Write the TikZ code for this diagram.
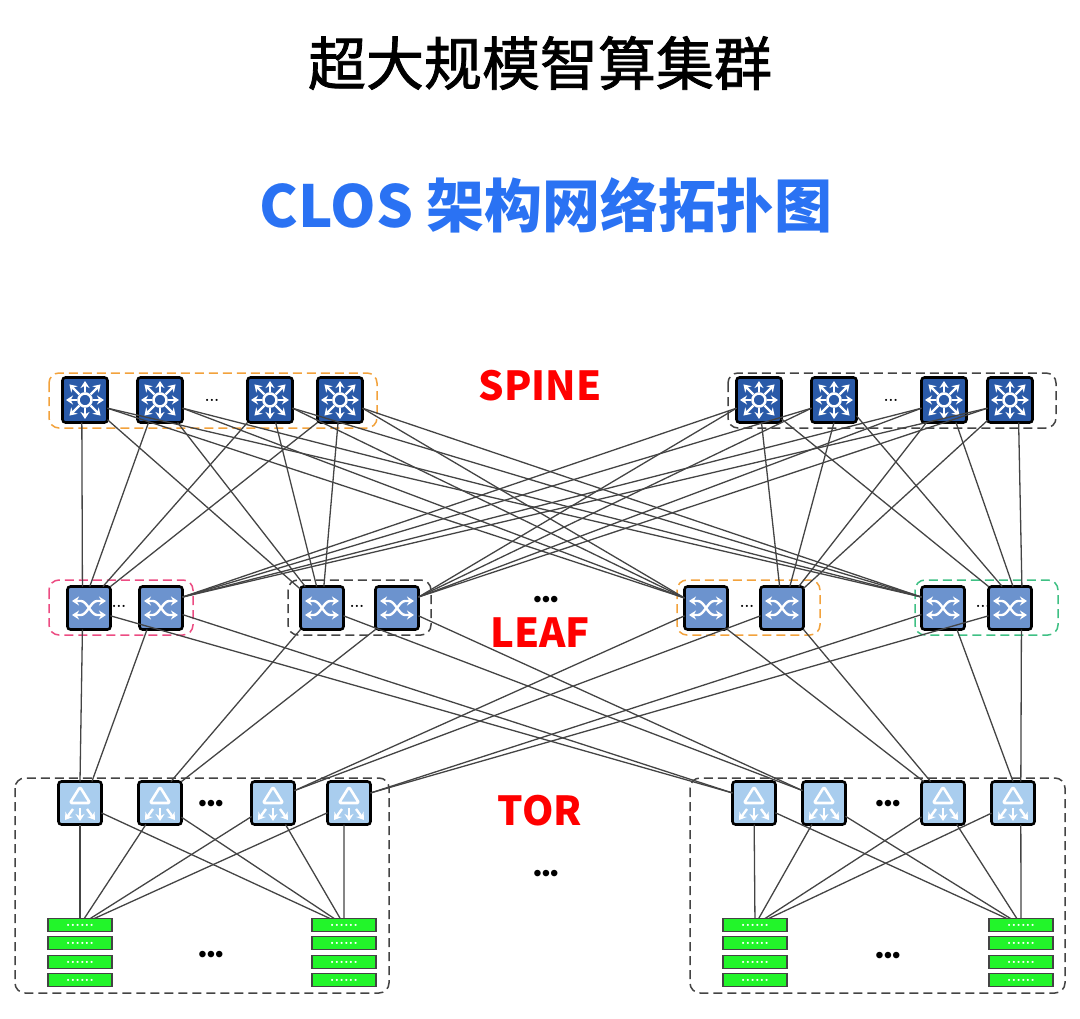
\documentclass[tikz,border=0pt]{standalone}
\usepackage{fontspec}
\usepackage{xcolor}
\usetikzlibrary{arrows.meta}
\usetikzlibrary{calc}
\newfontfamily\cjk{Noto Sans CJK SC}
\newfontfamily\cjkheavy[FakeBold=1.4]{Noto Sans CJK SC}
\newfontfamily\dotfont{Liberation Sans}
\definecolor{spineblue}{HTML}{2A5AA8}
\definecolor{leafblue}{HTML}{6C93CE}
\definecolor{torblue}{HTML}{A9CDEE}
\definecolor{servergreen}{HTML}{22F52A}
\definecolor{titleblue}{HTML}{2A72F3}
\definecolor{groupgray}{HTML}{444444}
\definecolor{grouporange}{HTML}{F2A23C}
\definecolor{grouppink}{HTML}{EC4C82}
\definecolor{groupgreen}{HTML}{3FC084}
\tikzset{
    switchbox/.style={draw=black, line width=2.6pt, rounded corners=3pt, inner sep=0pt, outer sep=0pt, minimum size=#1},
    spinebox/.style={switchbox=45pt, fill=spineblue},
    leafbox/.style={switchbox=43pt, fill=leafblue},
    torbox/.style={switchbox=43pt, fill=torblue},
    serverbox/.style={draw=groupgray, line width=1.3pt, fill=servergreen, minimum width=64pt, minimum height=13pt, inner sep=0pt, outer sep=0pt, text=white, font=\bfseries\fontsize{15}{15}\selectfont},
    groupbox/.style={draw=#1, line width=1.5pt, dash pattern=on 9pt off 5pt, rounded corners=10pt},
    link/.style={draw=groupgray, line width=1.3pt},
    iconline/.style={draw=white, line width=2.4pt, -{Stealth[length=7pt,width=9pt]}},
    bigdots/.style={font=\dotfont\fontsize{24}{24}\selectfont, inner sep=0pt},
    smalldots/.style={font=\bfseries\fontsize{15}{15}\selectfont, inner sep=0pt},
    layername/.style={font=\cjk\bfseries\fontsize{40}{40}\selectfont, text=red, inner sep=0pt},
    spineicon/.pic={
        \draw[white, line width=2.6pt] (0,0) circle (6.5);
        \foreach \ang in {0,90,180,270} \draw[iconline] (\ang:8) -- (\ang:19);
        \foreach \ang in {45,135,225,315} \draw[iconline] (\ang:8) -- (\ang:22);
    },
    leaficon/.pic={
        \draw[iconline, {Stealth[length=7pt,width=9pt]}-{Stealth[length=7pt,width=9pt]}] (-17,-7) -- (-8,-7) .. controls (-2,-7) and (2,7) .. (8,7) -- (17,7);
        \draw[iconline, {Stealth[length=7pt,width=9pt]}-{Stealth[length=7pt,width=9pt]}] (-17,7) -- (-8,7) .. controls (-2,7) and (2,-7) .. (8,-7) -- (17,-7);
    },
    toricon/.pic={
        \draw[white, line width=2.6pt, line join=round, rounded corners=1.5pt] (0,-16) -- (10,0) -- (-10,0) -- cycle;
        \draw[iconline] (0,5) -- (0,18);
        \draw[iconline] (-7,6) -- (-15,17);
        \draw[iconline] (7,6) -- (15,17);
    },
}
\begin{document}
\begin{tikzpicture}[>=Stealth, x=1pt, y=-1pt]

    \useasboundingbox (0,0) rectangle (1080,1019);

    \node[font=\cjkheavy\fontsize{58}{58}\selectfont, text=black, inner sep=0pt] (title) at (540,63) {超大规模智算集群};
    \node[font=\cjk\bfseries\fontsize{58}{58}\selectfont, text=titleblue, inner sep=0pt] (subtitle) at (546,205) {CLOS 架构网络拓扑图};

    \node[layername] (spinename) at (540,386) {SPINE};
    \node[layername] (leafname) at (540,633) {LEAF};
    \node[layername] (torname) at (540,811) {TOR};

    % dashed groups
    \draw[groupbox=grouporange] (49,373) rectangle (377,428);
    \draw[groupbox=groupgray] (728,373) rectangle (1056,428);
    \draw[groupbox=grouppink] (49,580) rectangle (193,635);
    \draw[groupbox=groupgray] (288,580) rectangle (431,635);
    \draw[groupbox=grouporange] (677,580) rectangle (820,635);
    \draw[groupbox=groupgreen] (915,580) rectangle (1058,635);
    \draw[groupbox=groupgray] (15,778) rectangle (389,993);
    \draw[groupbox=groupgray] (690,778) rectangle (1065,993);

    % switches
    \foreach \name/\x in {s1/85,s2/160,s3/270,s4/340,s5/759,s6/834,s7/944,s8/1010} {
        \node[spinebox] (\name) at (\x,400) {};
        \pic at (\name) {spineicon};
    }
    \foreach \name/\x in {l1/89,l2/161,l3/322,l4/397,l5/706,l6/782,l7/943,l8/1010} {
        \node[leafbox] (\name) at (\x,608) {};
        \pic at (\name) {leaficon};
    }
    \foreach \name/\x in {t1/80,t2/160,t3/273,t4/349,t5/754,t6/824,t7/943,t8/1013} {
        \node[torbox] (\name) at (\x,803) {};
        \pic at (\name) {toricon};
    }

    % servers
    \foreach \name/\x in {v1/80,v2/344,v3/755,v4/1021} {
        \foreach \k/\y in {a/925,b/943,c/962,d/980} {
            \node[serverbox] (\name\k) at (\x,\y) {......};
        }
    }

    % spine to leaf
    \foreach \a/\b in {s1.-98/l1.107, s2.-117/l1.88, s3.-135/l1.57, s4.-135/l1.45,
                       s1/l3, s2/l3, s3/l3, s4/l3,
                       s1.-20/l5.155, s2.-20/l5.155, s3.-20/l5.155, s4.-20/l5.155,
                       s1.-20/l7.153, s2.-20/l7.153, s3.-20/l7.153, s4.-20/l7.153,
                       s5.200/l2.27, s6.200/l2.27, s7.200/l2.27, s8.200/l2.27,
                       s5.200/l4.27, s6.200/l4.27, s7.200/l4.27, s8.200/l4.27,
                       s5/l6, s6.-90/l6.70, s7/l6, s8/l6,
                       s5.-40/l8.135, s6.-35/l8.110, s7.-62/l8.82, s8.-69/l8.61} {
        \draw[link] (\a) -- (\b);
    }

    % leaf to tor
    \foreach \a/\b in {l1.-107/t1.90, l2.-123/t1.61, l3.-135/t2.63, l4.-135/t2.45,
                       l5.-160/t3.30, l6.-160/t3.30, l7.-163/t4.25, l8.-160/t4.25,
                       l1.-20/t5.155, l2.-17/t5.155, l3.-20/t6.150, l4.-20/t6.150,
                       l5.-45/t7.132, l6.-45/t7.120, l7.-57/t8.90, l8.-62/t8.70} {
        \draw[link] (\a) -- (\b);
    }

    % tor to server
    \foreach \a/\b in {t1/v1a, t2/v1a, t3/v1a, t4/v1a,
                       t1/v2a, t2/v2a, t3/v2a, t4.-103/v2a,
                       t5/v3a, t6/v3a, t7/v3a, t8/v3a,
                       t5/v4a, t6/v4a, t7/v4a, t8.-70/v4a} {
        \draw[link] (\a) -- (\b);
    }

    \foreach \name/\x/\y in {d1/212/400, d2/891/400, d3/119/606, d4/357/606, d5/747/606, d6/983/606} {
        \node[smalldots] (\name) at (\x,\y) {...};
    }
    \foreach \name/\x/\y in {e1/546/602, e2/546/876, e3/211/806, e4/211/957, e5/888/806, e6/888/958} {
        \node[bigdots] (\name) at (\x,\y) {•••};
    }

\end{tikzpicture}
\end{document}
